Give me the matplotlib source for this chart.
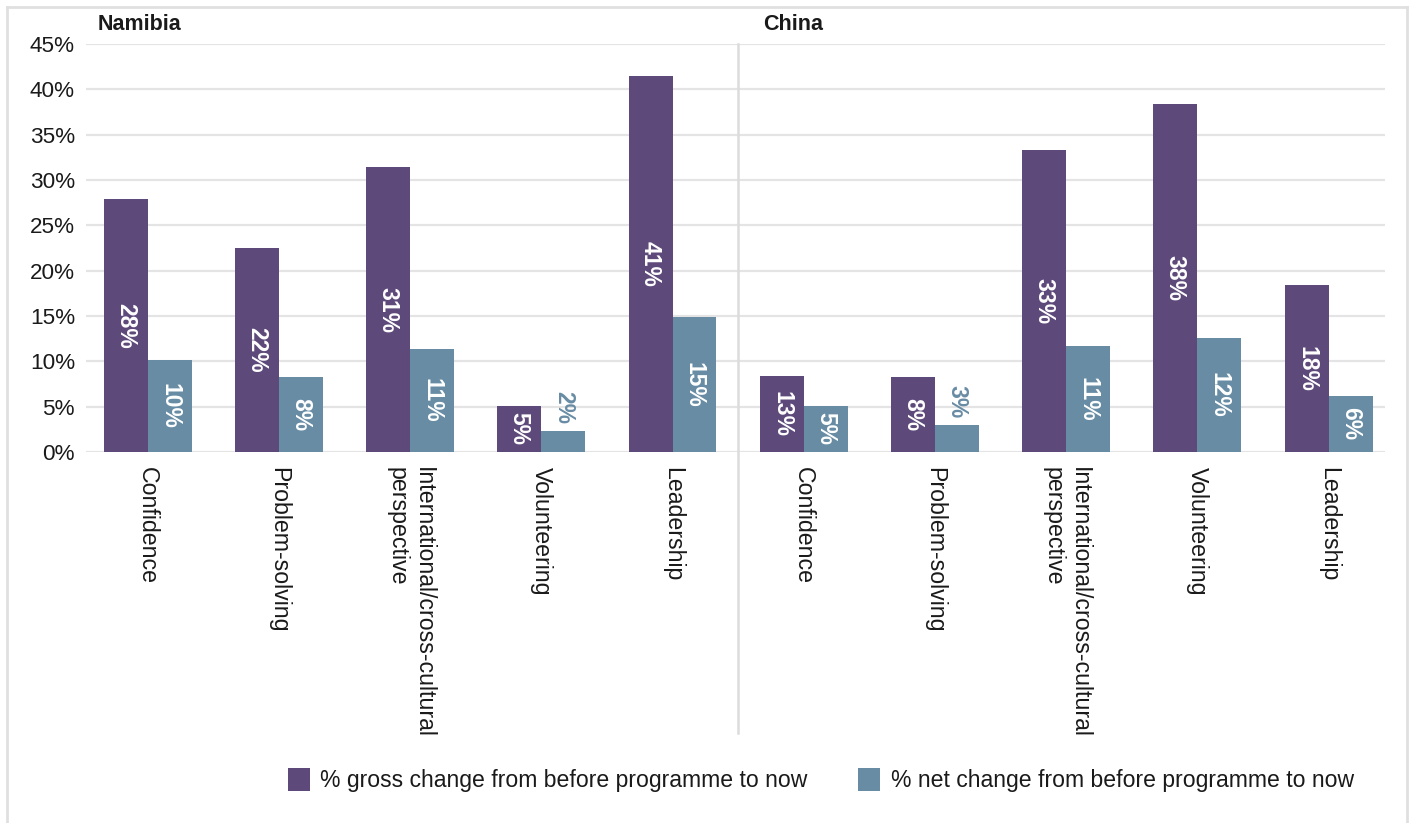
import matplotlib
matplotlib.use("Agg")
import matplotlib.pyplot as plt
from matplotlib.patches import Patch
from matplotlib.lines import Line2D
import numpy as np

plt.rcParams['font.family'] = ['Liberation Sans', 'DejaVu Sans']

# ---- data ----
countries = ["Namibia", "China"]
categories = ["Confidence", "Problem-solving", "International/cross-cultural\nperspective",
              "Volunteering", "Leadership"]
gross_values = [27.9, 22.5, 31.4, 5.1, 41.5,   # Namibia
                8.4, 8.3, 33.3, 38.4, 18.4]    # China
net_values = [10.1, 8.3, 11.4, 2.3, 14.9,      # Namibia
              5.1, 3.0, 11.7, 12.6, 6.2]       # China
gross_labels = ["28%", "22%", "31%", "5%", "41%", "13%", "8%", "33%", "38%", "18%"]
net_labels = ["10%", "8%", "11%", "2%", "15%", "5%", "3%", "11%", "12%", "6%"]
series_names = ["% gross change from before programme to now",
                "% net change from before programme to now"]
yticks = [0, 5, 10, 15, 20, 25, 30, 35, 40, 45]

PURPLE = "#5e4a7a"
TEAL = "#688ca4"
GRID = "#e4e4e4"

W, H = 1411, 823
fig = plt.figure(figsize=(W / 100, H / 100), dpi=100)
ax = fig.add_axes([86 / W, 1 - 452 / H, (1385 - 86) / W, (452 - 44) / H])

x = np.arange(len(gross_values))
bw = 0.335
ax.bar(x - bw / 2, gross_values, width=bw, color=PURPLE, zorder=3)
ax.bar(x + bw / 2, net_values, width=bw, color=TEAL, zorder=3)

def add_labels(xs, vals, labs, color_out):
    for xi, v, lab in zip(xs, vals, labs):
        if v >= 4:
            ax.text(xi, v / 2, lab, rotation=270, ha='center', va='center',
                    color='white', fontsize=16.5, fontweight='bold', zorder=4)
        else:
            ax.annotate(lab, (xi, v), xytext=(0, 5), textcoords='offset points',
                        rotation=270, ha='center', va='bottom',
                        color=color_out, fontsize=16.5, fontweight='bold', zorder=4)

add_labels(x - bw / 2, gross_values, gross_labels, PURPLE)
add_labels(x + bw / 2, net_values, net_labels, TEAL)

ax.set_xlim(-0.47, 9.43)
ax.set_ylim(0, 45)
ax.set_yticks(yticks)
ax.set_yticklabels([f"{t}%" for t in yticks])
ax.set_xticks(x)
ax.set_xticklabels(categories * 2, rotation=270, ha='center', va='top',
                   multialignment='left')
ax.tick_params(axis='both', length=0, colors='#1a1a1a')
ax.tick_params(axis='y', pad=8, labelsize=16.2)
ax.tick_params(axis='x', pad=11, labelsize=16.7)
ax.yaxis.grid(True, color=GRID, linewidth=1.6, zorder=0)
ax.set_axisbelow(True)
for s in ax.spines.values():
    s.set_visible(False)

# divider between countries
ax.axvline(4.5, ymin=-0.689, ymax=1, color="#dcdcdc", linewidth=1.8,
           clip_on=False, zorder=1)

# panel titles
fig.text(98 / W, 1 - 24 / H, countries[0], fontsize=15.5, fontweight='bold',
         ha='left', va='center', color='#1a1a1a')
fig.text(763 / W, 1 - 24 / H, countries[1], fontsize=15.5, fontweight='bold',
         ha='left', va='center', color='#1a1a1a')

# legend
handles = [Patch(facecolor=PURPLE, edgecolor='none'), Patch(facecolor=TEAL, edgecolor='none')]
fig.legend(handles, series_names, loc='center left', bbox_to_anchor=(288 / W, 1 - 780 / H),
           ncol=2, frameon=False, fontsize=16.6, handlelength=0.95, handleheight=1.2,
           handletextpad=0.45, columnspacing=2.2, borderpad=0, borderaxespad=0,
           labelcolor='#1a1a1a')

# outer frame (no bottom edge)
frame_color = "#e0e0e0"
fig.add_artist(Line2D([7 / W, 7 / W], [0, 1 - 7 / H], transform=fig.transFigure,
                      color=frame_color, linewidth=2))
fig.add_artist(Line2D([1407 / W, 1407 / W], [0, 1 - 7 / H], transform=fig.transFigure,
                      color=frame_color, linewidth=2))
fig.add_artist(Line2D([7 / W, 1407 / W], [1 - 7 / H, 1 - 7 / H], transform=fig.transFigure,
                      color=frame_color, linewidth=2))

fig.savefig("out.png", dpi=100)
